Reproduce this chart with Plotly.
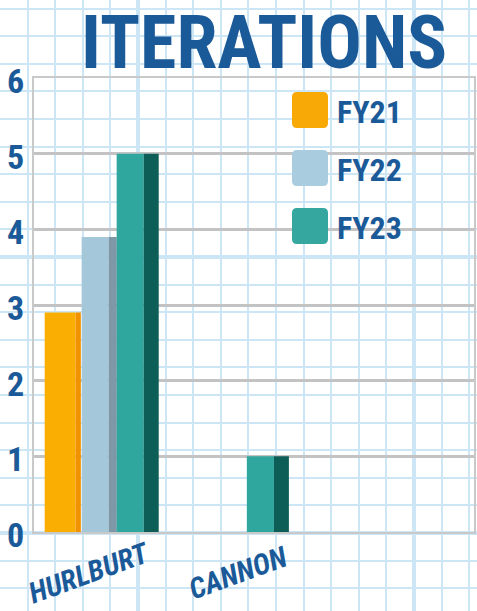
import plotly.graph_objects as go

# ---------------- data ----------------
categories = ["HURLBURT", "CANNON"]
series_names = ["FY21", "FY22", "FY23"]
fy21 = [2.9, 0]
fy22 = [3.9, 0]
fy23 = [5, 1]
y_ticks = [0, 1, 2, 3, 4, 5, 6]
title_text = "ITERATIONS"

# ---------------- style ----------------
W, H = 477, 611
BLUE = "#1b5a98"
NARROW = "Roboto Condensed, Liberation Sans Narrow, Roboto, sans-serif"
front_colors = ["#FAAE02", "#A4C7DA", "#2FA69E"]
side_colors = ["#F39200", "#7E98A8", "#0C5E57"]
swatch_colors = ["#F9A905", "#A9CCDE", "#35A79F"]
# (front offset, front width, side width) in category units
geom = [(-0.438, 0.238, 0.040), (-0.154, 0.208, 0.062), (0.115, 0.208, 0.115)]
label_shift = [-13, 6]

fig = go.Figure()

# invisible trace for graph-paper subplot (pixel coordinates)
fig.add_trace(go.Scatter(x=[0], y=[0], mode="markers", marker=dict(opacity=0),
                         showlegend=False, hoverinfo="skip", xaxis="x", yaxis="y"))

x_idx = list(range(len(categories)))
for name, vals, fc, sc, (off, fw, sw) in zip(series_names, [fy21, fy22, fy23],
                                              front_colors, side_colors, geom):
    fig.add_trace(go.Bar(x=x_idx, y=vals, name=name, offset=off, width=fw,
                         marker=dict(color=fc, line=dict(width=0)),
                         xaxis="x2", yaxis="y2", showlegend=False, hoverinfo="skip"))
    fig.add_trace(go.Bar(x=x_idx, y=vals, name=name + " side", offset=off + fw, width=sw,
                         marker=dict(color=sc, line=dict(width=0)),
                         xaxis="x2", yaxis="y2", showlegend=False, hoverinfo="skip"))

paper_blue = "#cde6f6"
fig.update_layout(
    width=W, height=H, autosize=False,
    margin=dict(l=0, r=0, t=0, b=0, pad=0, autoexpand=False),
    paper_bgcolor="white", plot_bgcolor="rgba(0,0,0,0)",
    barmode="overlay",
    xaxis=dict(domain=[0, 1], range=[0, W], anchor="y", showticklabels=False,
               zeroline=False, showline=False, fixedrange=True, automargin=False,
               showgrid=True, gridcolor=paper_blue, gridwidth=4, tick0=138, dtick=276,
               minor=dict(showgrid=True, gridcolor=paper_blue, gridwidth=2, tick0=0, dtick=27.6)),
    yaxis=dict(domain=[0, 1], range=[H, 0], anchor="x", showticklabels=False,
               zeroline=False, showline=False, fixedrange=True, automargin=False,
               showgrid=True, gridcolor=paper_blue, gridwidth=4, tick0=257, dtick=276,
               minor=dict(showgrid=True, gridcolor=paper_blue, gridwidth=2, tick0=257, dtick=27.6)),
    xaxis2=dict(domain=[34 / W, 474 / W], range=[-0.52, 2.86], anchor="y2",
                showgrid=False, showticklabels=False, zeroline=False, automargin=False,
                showline=True, mirror=True, linecolor="#c9c9c9", linewidth=2, fixedrange=True),
    yaxis2=dict(domain=[1 - 532 / H, 1 - 78 / H], range=[0, 6], anchor="x2",
                tickvals=y_ticks, ticktext=[str(v) for v in y_ticks], automargin=False,
                showgrid=True, gridcolor="#c3c3c3", gridwidth=3, zeroline=False,
                showline=True, mirror=True, linecolor="#c9c9c9", linewidth=2,
                ticks="", ticklabelstandoff=1, ticklabelshift=3, fixedrange=True,
                tickfont=dict(family=NARROW, size=34, color=BLUE, weight="bold")),
)

# title
fig.add_annotation(x=264, y=42, xref="x", yref="y", text=title_text, showarrow=False,
                   font=dict(family=NARROW, size=74, color=BLUE, weight="bold"),
                   xanchor="center", yanchor="middle")


def rounded_rect(x0, y0, x1, y1, r):
    return (f"M {x0 + r},{y0} L {x1 - r},{y0} Q {x1},{y0} {x1},{y0 + r} "
            f"L {x1},{y1 - r} Q {x1},{y1} {x1 - r},{y1} L {x0 + r},{y1} "
            f"Q {x0},{y1} {x0},{y1 - r} L {x0},{y0 + r} Q {x0},{y0} {x0 + r},{y0} Z")


# legend (drawn manually for large swatches)
for i, (name, col) in enumerate(zip(series_names, swatch_colors)):
    top = 92 + 58 * i
    fig.add_shape(type="path", xref="x", yref="y",
                  path=rounded_rect(292, top, 328, top + 36, 5),
                  fillcolor=col, line=dict(width=0), layer="above")
    fig.add_annotation(x=335, y=top + 20, xref="x", yref="y", text=name, showarrow=False,
                       font=dict(family=NARROW, size=32, color=BLUE, weight="bold"),
                       xanchor="left", yanchor="middle")

# category labels
for i, cat in enumerate(categories):
    fig.add_annotation(x=i, y=573, xref="x2", yref="y", text=f"<i>{cat}</i>", showarrow=False,
                       textangle=-20, xshift=label_shift[i],
                       font=dict(family=NARROW, size=29, color=BLUE, weight="bold"),
                       xanchor="center", yanchor="middle")

fig.write_html("out.html", config={"displayModeBar": False},
               post_script="document.body.style.margin='0';")
